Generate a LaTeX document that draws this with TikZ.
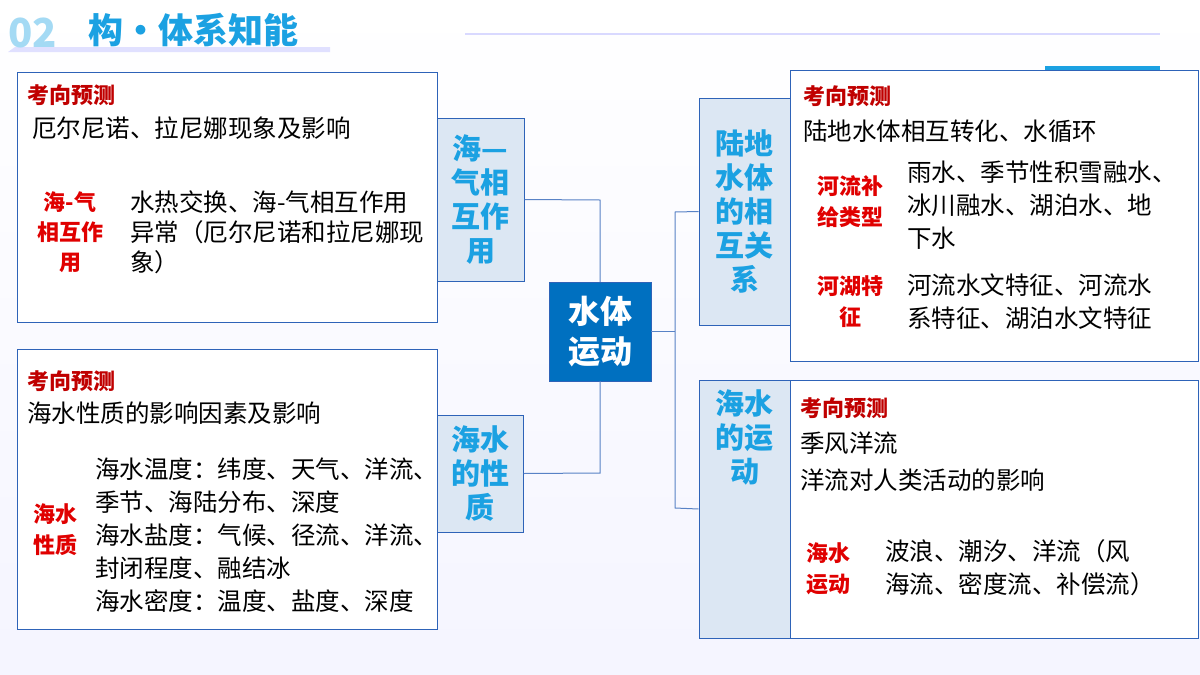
\documentclass[tikz,border=0pt]{standalone}
\usepackage{fontspec}
\setmainfont{Noto Sans CJK SC}
\definecolor{bd}{HTML}{2E63B8}
\definecolor{lab}{HTML}{1BA1E2}
\definecolor{lf}{HTML}{DCE7F3}
\definecolor{rd}{HTML}{E00000}
\definecolor{drd}{HTML}{C00000}
\definecolor{ctr}{HTML}{0070C0}
\begin{document}
\begin{tikzpicture}[x=1pt,y=-1pt,
 cbox/.style={draw=bd,line width=1pt,fill=white},
 lbox/.style={draw=bd,line width=1pt,fill=lf},
 ltxt/.style={font=\fontsize{29}{34}\selectfont\bfseries,text=lab,align=center},
 rtxt/.style={font=\fontsize{22}{31}\selectfont\bfseries,text=rd,align=center},
 head/.style={font=\fontsize{22}{26}\selectfont\bfseries,text=drd,anchor=west,inner sep=0},
 body/.style={font=\fontsize{24.5}{33}\selectfont,anchor=west,inner sep=0,align=left},
 conn/.style={draw=bd!80,line width=1pt}]
\useasboundingbox (0,0) rectangle (1200,675);
\fill[top color=white,bottom color=blue!4] (0,0) rectangle (1200,675);
\fill[blue!12] (15,47) -- (330,47) -- (330,52) -- (8,52) -- cycle;
\node[anchor=west,font=\fontsize{40}{40}\selectfont\bfseries,text=lab!40,inner sep=0] at (8,33) {02};
\node[anchor=west,font=\fontsize{35}{35}\selectfont\bfseries,text=lab,inner sep=0] (title) at (88,30) {构·体系知能};
\draw[blue!15,line width=1.5pt] (465,34) -- (1160,34);
\fill[lab] (1045,66) rectangle (1160,70);
% boxes
\draw[cbox] (17,72) rectangle (437,322);
\draw[cbox] (17,349) rectangle (437,629);
\draw[cbox] (790,70) rectangle (1198,361);
\draw[cbox] (790,380) rectangle (1198,638);
\node[lbox,minimum width=87,minimum height=163,ltxt] (hq) at (480.5,199.5) {海—\\气相\\互作\\用};
\node[lbox,minimum width=86,minimum height=117,ltxt] (hx) at (480,473.5) {海水\\的性\\质};
\node[lbox,minimum width=91,minimum height=227,ltxt] (ld) at (744.5,211.5) {陆地\\水体\\的相\\互关\\系};
\node[lbox,minimum width=91,minimum height=258] (hy) at (744.5,509) {};
\node[ltxt,anchor=north] (hyt) at (744.5,386) {海水\\的运\\动};
\node[draw=bd,fill=ctr,minimum width=102,minimum height=99,font=\fontsize{32}{40}\selectfont\bfseries,text=white,align=center] (c) at (600,331.5) {水体\\运动};
% connectors
\draw[conn] (hq.east) -- (600,200) -- (c.north);
\draw[conn] (hx.east) -- (600,473) -- (c.south);
\draw[conn] (c.east) -- (675,331.5);
\draw[conn] (ld.west) -- (675,212) -- (675,508) -- (hy.west);
% left top
\node[head] (h1) at (27,95) {考向预测};
\node[body] (b1) at (32,128) {厄尔尼诺、拉尼娜现象及影响};
\node[rtxt,font=\fontsize{22}{30}\selectfont\bfseries] (r1) at (70,232) {海-气\\相互作\\用};
\node[body,font=\fontsize{24.5}{30}\selectfont] (t1) at (130,232) {水热交换、海-气相互作用\\异常（厄尔尼诺和拉尼娜现\\象）};
% left bottom
\node[head] (h2) at (27,381) {考向预测};
\node[body] (b2) at (27,413) {海水性质的影响因素及影响};
\node[rtxt] (r2) at (55,530) {海水\\性质};
\node[body] (t2) at (95,535.5) {海水温度：纬度、天气、洋流、\\季节、海陆分布、深度\\海水盐度：气候、径流、洋流、\\封闭程度、融结冰\\海水密度：温度、盐度、深度};
% right top
\node[head] (h3) at (803,96) {考向预测};
\node[body] (b3) at (803,131) {陆地水体相互转化、水循环};
\node[rtxt] (r3) at (850,202) {河流补\\给类型};
\node[body] (t3) at (907,205) {雨水、季节性积雪融水、\\冰川融水、湖泊水、地\\下水};
\node[rtxt] (r4) at (850,302) {河湖特\\征};
\node[body] (t4) at (907,302) {河流水文特征、河流水\\系特征、湖泊水文特征};
% right bottom
\node[head] (h4) at (800,408) {考向预测};
\node[body] (b4) at (800,443) {季风洋流};
\node[body] (b5) at (800,480) {洋流对人类活动的影响};
\node[rtxt] (r5) at (828,569) {海水\\运动};
\node[body] (t5) at (885,568) {波浪、潮汐、洋流（风\\海流、密度流、补偿流）};
\end{tikzpicture}
\end{document}
